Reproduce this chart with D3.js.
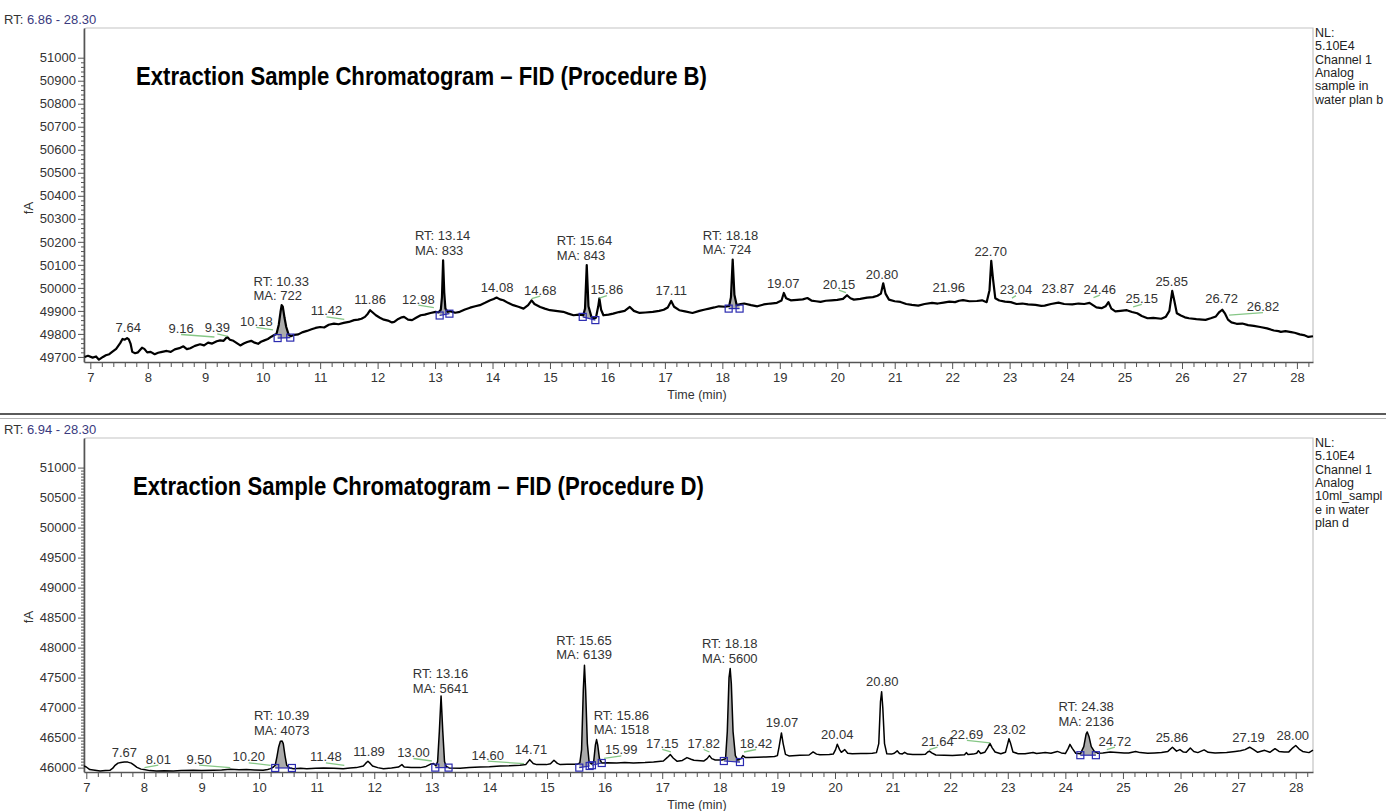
<!DOCTYPE html>
<html><head><meta charset="utf-8">
<script src="https://cdn.jsdelivr.net/npm/d3@7/dist/d3.min.js"></script>
<style>
body{margin:0;background:#fff}
svg{display:block}
text{font-family:"Liberation Sans",Arial,Helvetica,sans-serif}
</style>
</head><body>
<svg id="chart" width="1386" height="811"></svg>
<script>
// ---------------- DATA ----------------
const topRange = "6.86 - 28.30";
const bottomRange = "6.94 - 28.30";
const topTitle = "Extraction Sample Chromatogram \u2013 FID (Procedure B)";
const bottomTitle = "Extraction Sample Chromatogram \u2013 FID (Procedure D)";
const topInfo = ["NL:", "5.10E4", "Channel 1", "Analog", "sample in", "water plan b"];
const bottomInfo = ["NL:", "5.10E4", "Channel 1", "Analog", "10ml_sampl", "e in water", "plan d"];
const xTicks = d3.range(7, 29, 1);
const topYTicks = d3.range(49700, 51001, 100);
const bottomYTicks = d3.range(46000, 51001, 500);

// Trace of procedure B: [time (min), signal (fA)]
const topTrace = [
[6.90,49700],[6.96,49705],[7.04,49697],[7.10,49702],[7.15,49688],[7.22,49700],[7.27,49707],[7.33,49712],[7.38,49722],[7.45,49735],
[7.52,49760],[7.56,49778],[7.60,49775],[7.64,49782],[7.67,49776],[7.70,49758],[7.73,49722],[7.78,49716],[7.83,49720],[7.90,49740],
[7.94,49735],[7.99,49720],[8.05,49722],[8.12,49712],[8.18,49718],[8.25,49722],[8.33,49726],[8.40,49722],[8.47,49733],[8.55,49738],
[8.62,49746],[8.68,49734],[8.74,49738],[8.82,49748],[8.91,49755],[8.98,49750],[9.05,49762],[9.12,49758],[9.20,49768],[9.26,49772],
[9.32,49770],[9.38,49787],[9.43,49775],[9.49,49770],[9.55,49760],[9.61,49750],[9.67,49758],[9.73,49765],[9.80,49770],[9.86,49762],
[9.92,49757],[9.97,49766],[10.03,49772],[10.09,49778],[10.15,49788],[10.20,49795],[10.24,49800],[10.28,49840],[10.31,49895],[10.33,49925],
[10.35,49918],[10.38,49870],[10.41,49830],[10.45,49798],[10.49,49790],[10.55,49796],[10.62,49798],[10.70,49808],[10.77,49813],[10.85,49820],
[10.92,49826],[11.00,49830],[11.07,49828],[11.15,49840],[11.24,49845],[11.32,49842],[11.41,49848],[11.50,49852],[11.59,49860],[11.66,49862],
[11.72,49866],[11.78,49874],[11.83,49888],[11.87,49903],[11.92,49892],[11.97,49881],[12.04,49870],[12.11,49862],[12.18,49858],[12.25,49850],
[12.29,49852],[12.36,49865],[12.42,49872],[12.46,49874],[12.53,49862],[12.60,49860],[12.67,49870],[12.75,49881],[12.82,49884],[12.92,49891],
[13.01,49896],[13.06,49893],[13.10,49905],[13.12,49960],[13.14,50120],[13.16,49980],[13.18,49910],[13.22,49896],[13.26,49899],[13.35,49892],
[13.43,49896],[13.52,49906],[13.61,49914],[13.70,49920],[13.78,49925],[13.87,49935],[13.96,49946],[14.02,49952],[14.07,49958],[14.13,49950],
[14.19,49946],[14.27,49935],[14.36,49925],[14.45,49918],[14.54,49910],[14.62,49925],[14.68,49946],[14.73,49930],[14.83,49917],[14.91,49910],
[15.00,49903],[15.10,49900],[15.23,49896],[15.32,49888],[15.41,49881],[15.50,49884],[15.58,49881],[15.61,49910],[15.64,50099],[15.67,49920],
[15.72,49875],[15.76,49867],[15.80,49870],[15.84,49920],[15.86,49954],[15.89,49905],[15.93,49881],[16.02,49884],[16.10,49888],[16.20,49895],
[16.30,49900],[16.39,49917],[16.46,49900],[16.56,49891],[16.66,49893],[16.79,49896],[16.90,49900],[16.98,49905],[17.05,49915],[17.11,49943],
[17.16,49918],[17.25,49903],[17.35,49898],[17.48,49891],[17.60,49900],[17.70,49906],[17.77,49910],[17.86,49915],[17.94,49920],[18.05,49918],
[18.12,49922],[18.15,49960],[18.18,50123],[18.21,49970],[18.25,49925],[18.32,49930],[18.38,49932],[18.50,49925],[18.61,49920],[18.72,49928],
[18.84,49932],[18.95,49935],[19.03,49945],[19.07,49978],[19.11,49955],[19.19,49946],[19.30,49948],[19.40,49950],[19.48,49956],[19.55,49945],
[19.63,49942],[19.71,49939],[19.80,49944],[19.90,49946],[20.00,49948],[20.10,49952],[20.17,49968],[20.23,49955],[20.29,49949],[20.40,49952],
[20.52,49958],[20.62,49960],[20.70,49966],[20.76,49975],[20.80,50020],[20.84,49975],[20.90,49949],[21.00,49942],[21.10,49939],[21.20,49930],
[21.30,49926],[21.41,49923],[21.52,49930],[21.65,49935],[21.75,49932],[21.85,49936],[21.95,49940],[22.05,49938],[22.12,49944],[22.19,49947],
[22.30,49942],[22.43,49943],[22.52,49946],[22.60,49938],[22.65,49990],[22.68,50117],[22.71,50040],[22.75,49955],[22.82,49945],[22.92,49940],
[23.02,49938],[23.12,49930],[23.22,49932],[23.32,49928],[23.45,49926],[23.55,49922],[23.61,49923],[23.72,49930],[23.85,49936],[23.95,49930],
[24.09,49928],[24.20,49932],[24.30,49930],[24.39,49935],[24.45,49925],[24.51,49915],[24.60,49912],[24.67,49920],[24.72,49938],[24.77,49910],
[24.84,49898],[24.93,49900],[25.04,49903],[25.13,49895],[25.22,49890],[25.30,49878],[25.40,49868],[25.50,49870],[25.64,49866],[25.72,49875],
[25.78,49900],[25.83,49987],[25.87,49940],[25.91,49890],[25.98,49880],[26.05,49872],[26.12,49868],[26.25,49864],[26.35,49862],[26.41,49861],
[26.50,49868],[26.59,49876],[26.65,49895],[26.70,49905],[26.75,49888],[26.80,49862],[26.86,49850],[26.95,49844],[27.05,49845],[27.15,49838],
[27.25,49835],[27.36,49830],[27.48,49824],[27.60,49815],[27.68,49812],[27.72,49809],[27.80,49812],[27.90,49808],[27.96,49805],[28.05,49798],
[28.12,49795],[28.20,49787],[28.28,49790]
];

// Trace of procedure D: [time (min), signal (fA)]
const bottomTrace = [
[6.96,46028],[7.00,46010],[7.06,45967],[7.15,45955],[7.24,45944],[7.33,45950],[7.41,45955],[7.46,45990],[7.50,46039],[7.55,46075],
[7.60,46085],[7.66,46092],[7.72,46092],[7.78,46075],[7.83,46040],[7.88,46005],[7.95,45975],[8.00,45967],[8.10,45950],[8.22,45944],
[8.35,45948],[8.51,45944],[8.65,45952],[8.86,45955],[9.00,45950],[9.21,45955],[9.35,45960],[9.50,45972],[9.65,45965],[9.78,45968],
[9.92,45962],[10.07,45955],[10.15,45970],[10.20,45983],[10.25,46010],[10.28,46039],[10.31,46180],[10.34,46344],[10.37,46440],[10.40,46444],
[10.42,46400],[10.45,46200],[10.48,46039],[10.53,45995],[10.60,45983],[10.72,45990],[10.83,45983],[10.98,45990],[11.12,45994],[11.30,45990],
[11.46,45983],[11.58,45995],[11.69,46000],[11.81,46028],[11.85,46070],[11.89,46105],[11.93,46070],[11.97,46028],[12.06,46000],[12.16,45983],
[12.30,45995],[12.42,46010],[12.48,46050],[12.52,46010],[12.64,46000],[12.80,46000],[12.90,46020],[12.97,46055],[13.03,46067],[13.07,46030],
[13.10,46100],[13.13,46600],[13.16,47195],[13.19,46600],[13.22,46100],[13.25,46020],[13.30,45995],[13.49,45990],[13.65,46000],[13.84,46011],
[14.00,46015],[14.19,46028],[14.35,46030],[14.53,46039],[14.63,46050],[14.70,46133],[14.76,46070],[14.82,46050],[14.99,46050],[15.06,46065],
[15.12,46122],[15.18,46070],[15.23,46050],[15.35,46055],[15.52,46055],[15.57,46080],[15.60,46300],[15.63,47300],[15.65,47706],[15.67,47300],
[15.70,46400],[15.73,46100],[15.77,46060],[15.81,46100],[15.84,46380],[15.86,46467],[15.88,46380],[15.91,46150],[15.95,46078],[16.05,46080],
[16.21,46078],[16.35,46085],[16.50,46078],[16.70,46085],[16.85,46094],[17.02,46110],[17.09,46170],[17.14,46217],[17.19,46160],[17.26,46105],
[17.35,46120],[17.43,46167],[17.50,46140],[17.55,46122],[17.72,46110],[17.78,46150],[17.82,46200],[17.86,46150],[17.92,46128],[18.04,46128],
[18.10,46150],[18.13,46600],[18.16,47500],[18.18,47650],[18.20,47400],[18.23,46600],[18.27,46200],[18.31,46128],[18.37,46150],[18.40,46200],
[18.44,46170],[18.51,46167],[18.65,46172],[18.80,46178],[18.95,46185],[19.00,46200],[19.03,46350],[19.07,46578],[19.10,46400],[19.14,46220],
[19.20,46195],[19.39,46205],[19.55,46210],[19.62,46261],[19.68,46225],[19.74,46215],[19.90,46220],[19.97,46225],[20.01,46300],[20.04,46389],
[20.08,46300],[20.11,46255],[20.17,46300],[20.22,46240],[20.30,46230],[20.45,46235],[20.55,46237],[20.65,46240],[20.72,46250],[20.76,46400],
[20.79,47100],[20.81,47265],[20.83,47000],[20.86,46400],[20.90,46230],[20.98,46225],[21.03,46240],[21.08,46280],[21.12,46235],[21.17,46228],
[21.21,46255],[21.26,46225],[21.35,46220],[21.50,46218],[21.57,46222],[21.61,46260],[21.64,46275],[21.68,46245],[21.75,46210],[21.90,46205],
[22.04,46200],[22.18,46210],[22.25,46215],[22.28,46250],[22.31,46220],[22.40,46225],[22.46,46240],[22.49,46282],[22.53,46235],[22.60,46255],
[22.65,46330],[22.69,46405],[22.73,46330],[22.78,46260],[22.88,46230],[22.96,46255],[23.00,46400],[23.02,46480],[23.05,46400],[23.09,46260],
[23.18,46232],[23.30,46230],[23.44,46252],[23.50,46235],[23.58,46245],[23.65,46250],[23.75,46240],[23.86,46270],[23.93,46245],[24.00,46235],
[24.05,46320],[24.08,46388],[24.12,46320],[24.18,46240],[24.26,46230],[24.32,46350],[24.36,46560],[24.38,46595],[24.41,46520],[24.45,46350],
[24.50,46275],[24.56,46240],[24.65,46245],[24.78,46260],[24.90,46250],[25.02,46242],[25.10,46245],[25.22,46270],[25.30,46250],[25.43,46240],
[25.55,46245],[25.67,46252],[25.78,46270],[25.86,46340],[25.93,46275],[25.99,46300],[26.05,46260],[26.10,46255],[26.17,46328],[26.23,46270],
[26.30,46250],[26.41,46295],[26.48,46255],[26.60,46245],[26.80,46252],[26.95,46270],[27.04,46282],[27.12,46300],[27.20,46340],[27.27,46300],
[27.34,46255],[27.46,46288],[27.55,46255],[27.64,46315],[27.71,46270],[27.80,46262],[27.88,46262],[27.95,46330],[28.00,46369],[28.06,46310],
[28.12,46270],[28.23,46250],[28.30,46290]
];

// Integrated peaks: [start time, start fA, end time, end fA]
const topIntegrations = [
[10.26,49782,10.48,49784],[13.08,49880,13.25,49888],[15.57,49874,15.79,49860],[18.11,49910,18.30,49910]
];
const bottomIntegrations = [
[10.28,45994,10.57,45994],[13.06,46000,13.29,46000],[15.56,46000,15.74,46027],[15.78,46040,15.95,46077],
[18.07,46110,18.35,46093],[24.26,46207,24.53,46207]
];

// Peak labels: [retention time, text, label centre (min), label baseline (fA), has leader]
const topLabels = [
[7.64,"7.64",7.66,49807,0],[9.16,"9.16",8.58,49804,1],[9.39,"9.39",9.21,49807,1],[10.18,"10.18",9.89,49835,1],
[11.42,"11.42",11.11,49881,1],[11.86,"11.86",11.87,49929,0],[12.98,"12.98",12.71,49932,1],[14.08,"14.08",14.08,49983,0],
[14.68,"14.68",14.83,49971,1],[15.86,"15.86",15.99,49973,1],[17.11,"17.11",17.11,49968,0],[19.07,"19.07",19.06,50000,0],
[20.15,"20.15",20.03,49997,1],[20.80,"20.80",20.78,50040,0],[21.96,"21.96",21.94,49980,0],[22.70,"22.70",22.67,50140,0],
[23.04,"23.04",23.11,49973,1],[23.87,"23.87",23.84,49977,0],[24.46,"24.46",24.57,49975,1],[25.15,"25.15",25.30,49935,1],
[25.85,"25.85",25.82,50010,0],[26.72,"26.72",26.69,49933,0],[26.82,"26.82",27.41,49899,1]
];
const bottomLabels = [
[7.67,"7.67",7.66,46177,0],[8.01,"8.01",8.25,46067,1],[9.50,"9.50",8.96,46067,1],[10.20,"10.20",9.82,46105,1],
[11.48,"11.48",11.16,46105,1],[11.89,"11.89",11.91,46188,0],[13.00,"13.00",12.68,46177,1],[14.60,"14.60",13.97,46133,1],
[14.71,"14.71",14.72,46222,0],[15.99,"15.99",16.29,46222,1],[17.15,"17.15",17.00,46327,1],[17.82,"17.82",17.72,46327,1],
[18.42,"18.42",18.63,46327,1],[19.07,"19.07",19.08,46677,0],[20.04,"20.04",20.04,46483,0],[20.80,"20.80",20.82,47355,0],
[21.64,"21.64",21.78,46367,1],[22.69,"22.69",22.29,46480,1],[23.02,"23.02",23.03,46567,0],[24.72,"24.72",24.86,46367,1],
[25.86,"25.86",25.85,46423,0],[27.19,"27.19",27.18,46423,0],[28.00,"28.00",27.95,46452,0]
];

// RT / MA blocks: [RT text, MA text, left edge (min), first baseline (fA)]
const topBlocks = [
["RT: 10.33","MA: 722",9.84,50010],["RT: 13.14","MA: 833",12.65,50207],
["RT: 15.64","MA: 843",15.12,50186],["RT: 18.18","MA: 724",17.66,50210]
];
const bottomBlocks = [
["RT: 10.39","MA: 4073",9.91,46788],["RT: 13.16","MA: 5641",12.67,47488],["RT: 15.65","MA: 6139",15.16,48050],
["RT: 15.86","MA: 1518",15.81,46800],["RT: 18.18","MA: 5600",17.69,47993],["RT: 24.38","MA: 2136",23.88,46937]
];

// ---------------- DRAWING ----------------
const svg = d3.select("#chart");
const FONT = 13;

function panel(cfg) {
  const g = svg.append("g");
  const x = d3.scaleLinear().domain(cfg.xDomain).range([84, 1313]);
  const y = d3.scaleLinear().domain(cfg.yDomain).range([cfg.bottom, cfg.top]);

  // range header
  const hdr = g.append("text").attr("x", 4).attr("y", cfg.top - 4).attr("font-size", FONT);
  hdr.append("tspan").attr("fill", "#333").text("RT: ");
  hdr.append("tspan").attr("fill", "#3a3a7e").text(cfg.range);

  // frame
  g.append("path")
    .attr("d", `M84,${cfg.bottom} L84,${cfg.top + 3} Q84,${cfg.top} 87,${cfg.top} L1313,${cfg.top} L1313,${cfg.bottom}`)
    .attr("fill", "none").attr("stroke", "#c4c4c4").attr("stroke-width", 1.2);

  // y axis
  const yMinor = d3.range(cfg.yTicks[0], cfg.yTicks[cfg.yTicks.length - 1] + 1, cfg.yMinorStep)
    .filter(v => !cfg.yTicks.includes(v));
  const yAxisMinor = g.append("g").attr("transform", "translate(84,0)")
    .call(d3.axisLeft(y).tickValues(yMinor).tickSize(3).tickFormat(""));
  yAxisMinor.select(".domain").remove();
  g.append("g").attr("transform", "translate(84,0)")
    .call(d3.axisLeft(y).tickValues(cfg.yTicks).tickSize(6).tickSizeOuter(0).tickPadding(2).tickFormat(d3.format("d")));
  // x axis
  const xMinor = d3.range(7, 28.3, 0.2).map(v => Math.round(v * 10) / 10).filter(v => Math.abs(v - Math.round(v)) > 0.01);
  g.append("g").attr("transform", `translate(0,${cfg.bottom})`)
    .call(d3.axisBottom(x).tickValues(xMinor).tickSize(5).tickFormat(""))
    .select(".domain").remove();
  g.append("g").attr("transform", `translate(0,${cfg.bottom})`)
    .call(d3.axisBottom(x).tickValues(xTicks).tickSize(7).tickSizeOuter(0).tickPadding(4).tickFormat(d3.format("d")));
  g.selectAll(".tick line").attr("stroke", "#555");
  g.selectAll(".domain").attr("stroke", "#555").attr("stroke-width", 1.6);
  g.selectAll(".tick text").attr("font-size", FONT).attr("fill", "#333")
    .attr("font-family", '"Liberation Sans",Arial,sans-serif');

  // axis titles
  g.append("text").attr("transform", `translate(33,${cfg.fAy}) rotate(-90)`)
    .attr("text-anchor", "middle").attr("font-size", FONT).attr("fill", "#333").text("fA");
  g.append("text").attr("x", 697).attr("y", cfg.bottom + 37).attr("text-anchor", "middle")
    .attr("font-size", 12.5).attr("fill", "#333").text("Time (min)");

  // title
  g.append("text").attr("x", cfg.titleX).attr("y", cfg.top + 57)
    .attr("font-family", '"Liberation Sans Narrow","Arial Narrow","Liberation Sans",sans-serif')
    .attr("font-weight", "bold").attr("font-size", 26).attr("fill", "#000")
    .attr("textLength", 571).attr("lengthAdjust", "spacingAndGlyphs").text(cfg.title);

  // info text
  g.selectAll(".info").data(cfg.info).enter().append("text")
    .attr("x", 1315).attr("y", (d, i) => cfg.top + 9 + i * 13.3)
    .attr("font-size", 12.5).attr("fill", "#222").text(d => d);

  const lookup = t => {
    const tr = cfg.trace;
    const i = d3.bisector(d => d[0]).left(tr, t);
    if (i <= 0) return tr[0][1];
    if (i >= tr.length) return tr[tr.length - 1][1];
    const a = tr[i - 1], b = tr[i];
    return a[1] + (b[1] - a[1]) * (t - a[0]) / (b[0] - a[0]);
  };

  // integrated peak fill
  cfg.integ.forEach(p => {
    const [t0, v0, t1, v1] = p;
    const base = t => v0 + (v1 - v0) * (t - t0) / (t1 - t0);
    const pts = [[t0, lookup(t0)]].concat(cfg.trace.filter(d => d[0] > t0 && d[0] < t1)).concat([[t1, lookup(t1)]]);
    g.append("path").datum(pts)
      .attr("d", d3.area().x(d => x(d[0])).y0(d => y(base(d[0]))).y1(d => y(Math.max(d[1], base(d[0])))))
      .attr("fill", "#ababab");
  });

  // trace
  g.append("path").datum(cfg.trace)
    .attr("d", d3.line().x(d => x(d[0])).y(d => y(d[1])))
    .attr("fill", "none").attr("stroke", "#000").attr("stroke-width", cfg.lw).attr("stroke-linejoin", "round");

  // integration baselines and markers
  cfg.integ.forEach(p => {
    const [t0, v0, t1, v1] = p;
    g.append("line").attr("x1", x(t0)).attr("y1", y(v0)).attr("x2", x(t1)).attr("y2", y(v1))
      .attr("stroke", "#2b2bb0").attr("stroke-width", 1.2);
    [[t0, v0], [t1, v1]].forEach(q => {
      g.append("rect").attr("x", x(q[0]) - 3.5).attr("y", y(q[1]) - 3.5).attr("width", 7).attr("height", 7)
        .attr("fill", "none").attr("stroke", "#2b2bb0").attr("stroke-width", 1.2);
    });
  });

  // leaders
  cfg.labels.filter(d => d[4]).forEach(d => {
    g.append("line").attr("x1", x(d[2])).attr("y1", y(d[3]) + 1.5)
      .attr("x2", x(d[0])).attr("y2", y(d[3]) + 4)
      .attr("stroke", "#86c786").attr("stroke-width", 1.3);
  });
  // peak labels
  g.selectAll(".pl").data(cfg.labels).enter().append("text")
    .attr("x", d => x(d[2])).attr("y", d => y(d[3])).attr("text-anchor", "middle")
    .attr("font-size", FONT).attr("fill", "#333").text(d => d[1]);
  // RT/MA blocks
  cfg.blocks.forEach(b => {
    g.append("text").attr("x", x(b[2])).attr("y", y(b[3])).attr("font-size", FONT).attr("fill", "#333").text(b[0]);
    g.append("text").attr("x", x(b[2])).attr("y", y(b[3]) + 14.7).attr("font-size", FONT).attr("fill", "#333").text(b[1]);
  });
}

panel({
  xDomain: [6.89, 28.28], yDomain: [49678, 51129], top: 28, bottom: 362,
  range: topRange, title: topTitle, titleX: 136, info: topInfo,
  yTicks: topYTicks, yMinorStep: 20, fAy: 208, lw: 2.2,
  trace: topTrace, integ: topIntegrations, labels: topLabels, blocks: topBlocks
});
panel({
  xDomain: [6.96, 28.30], yDomain: [45927, 51493], top: 438, bottom: 772,
  range: bottomRange, title: bottomTitle, titleX: 133, info: bottomInfo,
  yTicks: bottomYTicks, yMinorStep: 50, fAy: 617, lw: 1.5,
  trace: bottomTrace, integ: bottomIntegrations, labels: bottomLabels, blocks: bottomBlocks
});

// separator between panels
svg.append("line").attr("x1", 0).attr("x2", 1386).attr("y1", 414).attr("y2", 414).attr("stroke", "#5a5a5a").attr("stroke-width", 2);
svg.append("line").attr("x1", 0).attr("x2", 1386).attr("y1", 418.5).attr("y2", 418.5).attr("stroke", "#b4b4b4").attr("stroke-width", 1);
</script>
</body></html>
